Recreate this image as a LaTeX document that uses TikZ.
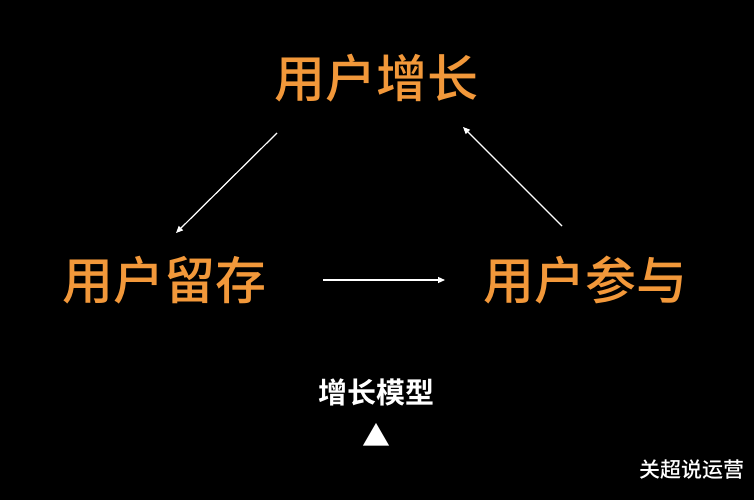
\documentclass[tikz,border=0pt]{standalone}
\usepackage{fontspec}
\newfontfamily\cjk{Noto Sans CJK SC Medium}
\newfontfamily\cjkb{Noto Sans CJK SC Bold}
\usetikzlibrary{arrows.meta}
\definecolor{og}{RGB}{242,152,58}
\tikzset{
  big/.style={text=og,font=\cjk\fontsize{51}{51}\selectfont,inner sep=0pt},
  small/.style={text=white,font=\cjkb\fontsize{29}{29}\selectfont,inner sep=0pt},
  conn/.style={draw=white,line width=1.2pt,-{Triangle[width=6pt,length=7pt]}}
}
\begin{document}
\begin{tikzpicture}[x=1pt,y=-1pt]
\fill[black] (0,0) rectangle (754,500);
\useasboundingbox (0,0) rectangle (754,500);
\node[big] (top) at (376,78) {用户增长};
\node[big] (left) at (164,280) {用户留存};
\node[big] (right) at (585,280) {用户参与};
\coordinate (a1s) at (277,133);
\coordinate (a1e) at (176,233);
\coordinate (a2s) at (562,226);
\coordinate (a2e) at (463,127);
\coordinate (a3s) at (323,280);
\coordinate (a3e) at (445,280);
\draw[conn] (a1s) -- (a1e);
\draw[conn] (a2s) -- (a2e);
\draw[conn] (a3s) -- (a3e);
\node[small] (model) at (376,392) {增长模型};
\node[text=white,font=\cjk\fontsize{28}{28}\selectfont,inner sep=0pt] (tri) at (376,435) {▲};
\node[text=white,font=\cjk\fontsize{21}{21}\selectfont,inner sep=0pt] (brand) at (692,470) {关超说运营};
\end{tikzpicture}
\end{document}
